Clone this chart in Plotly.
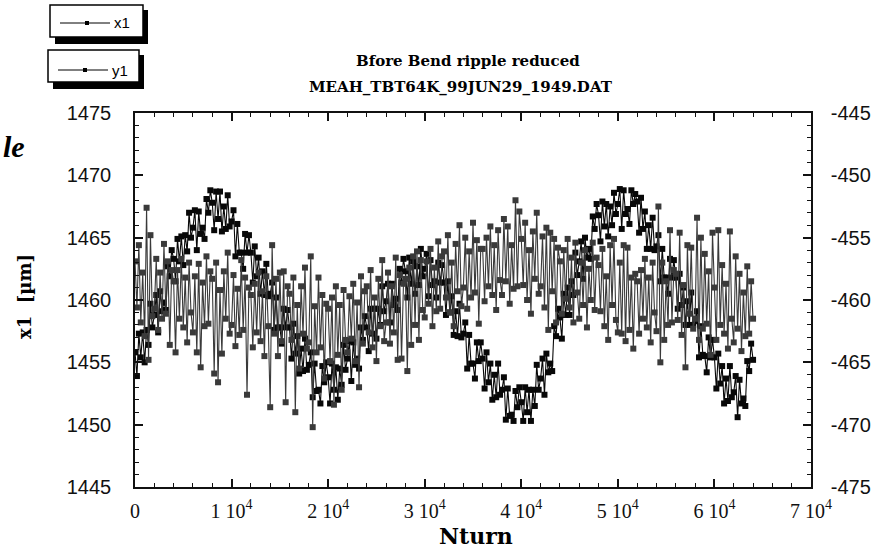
import plotly.graph_objects as go

# ---------------- data ----------------
nturn = list(range(0, 64001, 200))

x1 = [
    1455.8, 1453.9, 1457.3, 1455.4, 1457.4,
    1455.0, 1457.6, 1456.4, 1459.7, 1457.8,
    1458.8, 1460.4, 1457.4, 1460.7, 1459.1,
    1459.8, 1459.2, 1462.7, 1461.9, 1464.0,
    1463.3, 1461.5, 1464.9, 1463.1, 1465.1,
    1462.8, 1465.2, 1463.9, 1467.0, 1465.0,
    1465.8, 1467.2, 1464.0, 1467.1, 1465.3,
    1465.8, 1464.9, 1468.1, 1467.0, 1468.8,
    1467.8, 1465.6, 1468.7, 1466.5, 1468.7,
    1465.5, 1467.5, 1465.7, 1468.4, 1465.9,
    1466.3, 1467.2, 1463.5, 1466.1, 1463.8,
    1463.8, 1462.5, 1465.3, 1463.8, 1465.2,
    1463.8, 1461.4, 1464.3, 1461.9, 1463.4,
    1460.5, 1462.3, 1460.4, 1462.9, 1460.3,
    1460.5, 1461.4, 1457.6, 1460.2, 1457.8,
    1457.8, 1456.5, 1459.3, 1457.8, 1459.2,
    1457.8, 1455.3, 1458.1, 1455.7, 1457.1,
    1454.1, 1456.1, 1454.3, 1456.9, 1454.4,
    1454.8, 1455.8, 1452.2, 1454.9, 1452.7,
    1452.8, 1451.7, 1454.7, 1453.4, 1455.0,
    1453.8, 1451.7, 1454.9, 1452.8, 1454.6,
    1452.0, 1454.5, 1453.2, 1456.4, 1454.4,
    1455.3, 1456.7, 1453.5, 1456.6, 1454.8,
    1455.3, 1454.5, 1457.8, 1456.8, 1458.7,
    1457.8, 1455.9, 1459.3, 1457.3, 1459.3,
    1456.9, 1459.3, 1458.0, 1461.1, 1459.1,
    1459.9, 1461.3, 1458.2, 1461.3, 1459.6,
    1460.1, 1459.2, 1462.5, 1461.4, 1463.3,
    1462.3, 1460.2, 1463.4, 1461.3, 1463.1,
    1460.5, 1462.7, 1461.2, 1464.1, 1461.9,
    1462.5, 1463.7, 1460.3, 1463.2, 1461.2,
    1461.5, 1460.2, 1463.0, 1461.4, 1462.8,
    1461.4, 1458.8, 1461.5, 1459.0, 1460.3,
    1457.2, 1459.1, 1457.1, 1459.7, 1457.0,
    1457.3, 1458.2, 1454.5, 1457.2, 1454.9,
    1454.9, 1453.7, 1456.6, 1455.1, 1456.6,
    1455.3, 1452.9, 1455.8, 1453.4, 1454.9,
    1452.0, 1454.0, 1452.2, 1454.9, 1452.4,
    1452.8, 1453.8, 1450.4, 1452.9, 1450.7,
    1450.8, 1450.3, 1452.7, 1451.4, 1453.0,
    1451.8, 1450.3, 1453.0, 1451.0, 1452.8,
    1450.3, 1452.8, 1451.5, 1454.8, 1452.8,
    1453.7, 1455.3, 1452.4, 1455.7, 1454.2,
    1454.9, 1454.3, 1457.9, 1457.1, 1459.3,
    1458.6, 1456.9, 1460.5, 1458.8, 1461.0,
    1458.8, 1461.5, 1460.4, 1463.8, 1462.0,
    1463.1, 1464.7, 1461.7, 1465.0, 1463.4,
    1464.1, 1463.3, 1466.7, 1465.7, 1467.7,
    1466.8, 1464.7, 1467.9, 1465.9, 1467.7,
    1465.1, 1467.5, 1466.0, 1468.6, 1466.9,
    1467.7, 1468.9, 1465.7, 1468.8, 1466.9,
    1467.3, 1466.1, 1468.8, 1467.7, 1468.5,
    1467.9, 1465.4, 1468.2, 1465.7, 1467.1,
    1464.1, 1466.0, 1464.1, 1466.6, 1464.0,
    1464.3, 1465.2, 1461.5, 1464.1, 1461.8,
    1461.8, 1460.5, 1463.3, 1461.8, 1463.2,
    1461.8, 1459.3, 1462.1, 1459.6, 1461.0,
    1458.0, 1459.9, 1458.0, 1460.6, 1458.0,
    1458.3, 1459.1, 1455.4, 1457.9, 1455.6,
    1455.5, 1454.2, 1457.0, 1455.4, 1456.8,
    1455.4, 1452.9, 1455.7, 1453.3, 1454.7,
    1451.7, 1453.7, 1451.9, 1454.7, 1452.2,
    1452.6, 1453.9, 1450.6, 1453.6, 1451.7,
    1452.1, 1451.5, 1455.1, 1454.3, 1456.5,
    1455.2,
]

y1 = [
    -456.9, -460.6, -455.6, -461.8, -457.8, -462.9, -452.6, -464.8, -454.8, -461.3,
    -460.7, -456.7, -462.4, -457.8, -461.5, -455.5, -461.1, -456.9, -463.6, -457.6,
    -458.5, -464.2, -457.6, -461.5, -456.7, -462.2, -458.2, -463.4, -457.0, -461.0,
    -462.6, -458.1, -464.2, -457.1, -465.4, -458.6, -462.1, -456.5, -461.9, -457.7,
    -458.3, -465.9, -457.0, -466.6, -459.2, -464.3, -457.7, -461.5, -456.2, -462.7,
    -462.0, -458.0, -463.7, -459.1, -462.8, -456.8, -462.4, -458.2, -467.6, -459.0,
    -459.6, -463.8, -458.7, -462.6, -457.8, -463.3, -459.3, -464.5, -458.1, -462.1,
    -468.6, -455.6, -462.7, -458.3, -464.5, -457.8, -463.3, -457.7, -468.2, -458.9,
    -459.5, -463.2, -458.2, -469.0, -460.4, -465.5, -458.9, -462.7, -457.4, -463.9,
    -463.4, -456.5, -470.2, -460.5, -464.2, -458.2, -463.8, -459.6, -466.3, -460.3,
    -460.7, -464.9, -459.8, -468.4, -458.9, -464.4, -460.4, -467.2, -459.2, -463.2,
    -464.2, -459.7, -463.1, -458.7, -464.9, -460.2, -467.0, -458.1, -463.5, -459.3,
    -458.9, -462.6, -457.6, -463.8, -459.8, -464.9, -458.3, -462.1, -456.8, -463.3,
    -461.8, -457.8, -463.5, -458.9, -462.6, -456.6, -464.8, -458.0, -464.7, -458.7,
    -458.3, -465.7, -457.4, -463.6, -456.5, -462.0, -456.1, -463.2, -456.8, -460.8,
    -461.4, -456.9, -460.3, -455.9, -462.1, -457.4, -460.9, -455.3, -460.7, -456.5,
    -456.1, -459.8, -454.8, -461.0, -457.0, -462.1, -455.5, -459.3, -454.0, -460.5,
    -459.0, -455.0, -460.7, -456.1, -459.8, -453.8, -459.4, -455.2, -461.9, -455.9,
    -455.9, -460.1, -455.0, -458.9, -454.1, -459.6, -455.6, -460.8, -454.4, -458.4,
    -459.6, -453.5, -458.5, -454.1, -460.3, -455.6, -459.1, -452.0, -458.9, -452.9,
    -455.1, -458.8, -453.8, -460.0, -456.0, -461.1, -454.5, -458.3, -453.0, -459.5,
    -458.9, -454.9, -460.6, -454.2, -462.4, -454.6, -459.3, -455.1, -461.8, -455.8,
    -456.9, -461.1, -456.0, -459.9, -455.1, -460.6, -456.6, -461.8, -455.4, -459.4,
    -461.5, -457.0, -460.4, -456.0, -462.2, -457.5, -460.0, -455.4, -460.8, -456.6,
    -457.2, -460.9, -455.9, -462.1, -458.1, -463.2, -455.6, -460.4, -455.1, -461.6,
    -462.6, -457.0, -462.7, -455.6, -463.3, -455.8, -462.4, -458.2, -463.9, -457.9,
    -458.5, -462.7, -457.6, -461.5, -456.7, -462.2, -458.2, -463.4, -457.0, -461.0,
    -462.5, -452.5, -465.0, -457.0, -463.2, -458.5, -462.0, -454.4, -461.8, -457.6,
    -457.9, -461.6, -454.6, -462.8, -458.8, -465.4, -455.6, -461.1, -455.8, -462.3,
    -461.5, -453.4, -463.2, -455.0, -462.3, -456.3, -461.9, -457.7, -464.4, -454.6,
    -459.0, -463.2, -454.4, -462.0, -457.2, -462.7, -458.7, -463.9, -454.5, -461.5,
    -463.4, -456.5, -462.3, -457.9, -464.1, -459.4, -462.9, -457.3, -462.7, -458.5,
    -461.5,
]

x_tickvals = [0, 10000, 20000, 30000, 40000, 50000, 60000, 70000]
x_ticktext = ["0", "1 10<sup>4</sup>", "2 10<sup>4</sup>", "3 10<sup>4</sup>",
              "4 10<sup>4</sup>", "5 10<sup>4</sup>", "6 10<sup>4</sup>", "7 10<sup>4</sup>"]
left_tickvals = [1445, 1450, 1455, 1460, 1465, 1470, 1475]
right_tickvals = [-475, -470, -465, -460, -455, -450, -445]
right_ticktext = ["-475", "-470", "-465", "-460", "-455", "-450", "-445"]
left_range = [1445, 1475]
right_range = [-475, -445]
x_range = [0, 70000]

title_lines = ["Bfore Bend ripple reduced", "MEAH_TBT64K_99JUN29_1949.DAT"]

# ---------------- layout geometry (page pixels) ----------------
W, H = 873, 552
L, R, T, B = 135, 811, 113, 487   # plot frame


def px(x):
    return (x - L) / (R - L)


def py(y):
    return (B - y) / (B - T)


GRAY = "#3a3a3a"
BLACK = "#080808"

fig = go.Figure()
fig.add_trace(go.Scatter(
    x=nturn, y=y1, yaxis="y2", mode="lines+markers", name="y1",
    line=dict(color=GRAY, width=1.1),
    marker=dict(symbol="square", size=6, color=GRAY, line=dict(width=0)),
))
fig.add_trace(go.Scatter(
    x=nturn, y=x1, mode="lines+markers", name="x1",
    line=dict(color=BLACK, width=1.1),
    marker=dict(symbol="square", size=6, color=BLACK, line=dict(width=0)),
))

tickfont_y = dict(family="Liberation Sans", size=20, color="#111")
tickfont_x = dict(family="Liberation Serif", size=20, color="#111")
minor_x = dict(ticks="inside", ticklen=4, dtick=2000, tickcolor="#111", tickwidth=1.2, showgrid=False)
minor_y = dict(ticks="inside", ticklen=4, dtick=1, tickcolor="#111", tickwidth=1.2, showgrid=False)

fig.update_layout(
    width=W, height=H, autosize=False,
    margin=dict(l=L, r=W - R, t=T, b=H - B, pad=0, autoexpand=False),
    paper_bgcolor="white", plot_bgcolor="white",
    showlegend=False,
    xaxis=dict(
        range=x_range, tickvals=x_tickvals, ticktext=x_ticktext, automargin=False,
        ticks="inside", ticklen=8, tickwidth=1.5, tickcolor="#111",
        showline=True, linecolor="#111", linewidth=1.5, mirror="ticks",
        showgrid=False, zeroline=False, tickfont=tickfont_x,
        ticklabelstandoff=5, minor=minor_x,
    ),
    yaxis=dict(
        range=left_range, tickvals=left_tickvals, automargin=False,
        ticks="inside", ticklen=8, tickwidth=1.5, tickcolor="#111",
        showline=True, linecolor="#111", linewidth=1.5,
        showgrid=False, zeroline=False, tickfont=tickfont_y,
        ticklabelstandoff=18, minor=minor_y,
    ),
    yaxis2=dict(
        range=right_range, tickvals=right_tickvals, ticktext=right_ticktext,
        overlaying="y", side="right", automargin=False,
        ticks="inside", ticklen=8, tickwidth=1.5, tickcolor="#111",
        showline=True, linecolor="#111", linewidth=1.5,
        showgrid=False, zeroline=False, tickfont=tickfont_y,
        ticklabelstandoff=14, minor=minor_y,
    ),
)

annotations = []
annotations.append(dict(
    x=px(468), y=py(61), xref="paper", yref="paper", showarrow=False,
    text="<b>" + title_lines[0] + "</b>", xanchor="center", yanchor="middle",
    font=dict(family="DejaVu Serif", size=15, color="#000"),
))
annotations.append(dict(
    x=px(461), y=py(87), xref="paper", yref="paper", showarrow=False,
    text="<b>" + title_lines[1] + "</b>", xanchor="center", yanchor="middle",
    font=dict(family="DejaVu Serif", size=15, color="#000"),
))
annotations.append(dict(
    x=px(476), y=py(536), xref="paper", yref="paper", showarrow=False,
    text="<b>Nturn</b>", xanchor="center", yanchor="middle",
    font=dict(family="DejaVu Serif", size=22, color="#000"),
))
annotations.append(dict(
    x=px(24), y=py(297), xref="paper", yref="paper", showarrow=False,
    text="<b>x1  [µm]</b>", textangle=-90, xanchor="center", yanchor="middle",
    font=dict(family="DejaVu Serif", size=18, color="#000"),
))
annotations.append(dict(
    x=px(1), y=py(146), xref="paper", yref="paper", showarrow=False,
    text="<b><i>le</i></b>", xanchor="left", yanchor="middle",
    font=dict(family="Liberation Serif", size=30, color="#000"),
))

shapes = []
legend_boxes = [
    (50, 5, 143, 37, "x1", 23, 87),
    (48, 50, 139, 82, "y1", 70, 85),
]
for (bx0, by0, bx1, by1, lab, ly, mx) in legend_boxes:
    shapes.append(dict(type="rect", xref="paper", yref="paper",
                       x0=px(bx0 + 5), x1=px(bx1 + 5), y0=py(by1 + 7), y1=py(by0 + 5),
                       fillcolor="#000", line=dict(width=0), layer="above"))
    shapes.append(dict(type="rect", xref="paper", yref="paper",
                       x0=px(bx0), x1=px(bx1), y0=py(by1), y1=py(by0),
                       fillcolor="white", line=dict(color="#000", width=1.5), layer="above"))
    shapes.append(dict(type="line", xref="paper", yref="paper",
                       x0=px(bx0 + 10), x1=px(bx0 + 60), y0=py(ly), y1=py(ly),
                       line=dict(color="#000", width=1), layer="above"))
    shapes.append(dict(type="rect", xref="paper", yref="paper",
                       x0=px(mx - 2), x1=px(mx + 2), y0=py(ly + 2), y1=py(ly - 2),
                       fillcolor="#000", line=dict(width=0), layer="above"))
    annotations.append(dict(
        x=px(bx0 + 62), y=py(ly), xref="paper", yref="paper", showarrow=False,
        text=lab, xanchor="left", yanchor="middle",
        font=dict(family="Liberation Sans", size=15, color="#000"),
    ))

fig.update_layout(annotations=annotations, shapes=shapes)

fig.write_html(
    "out.html",
    config={"displayModeBar": False},
    post_script="document.body.style.margin='0';document.body.style.overflow='hidden';",
)
